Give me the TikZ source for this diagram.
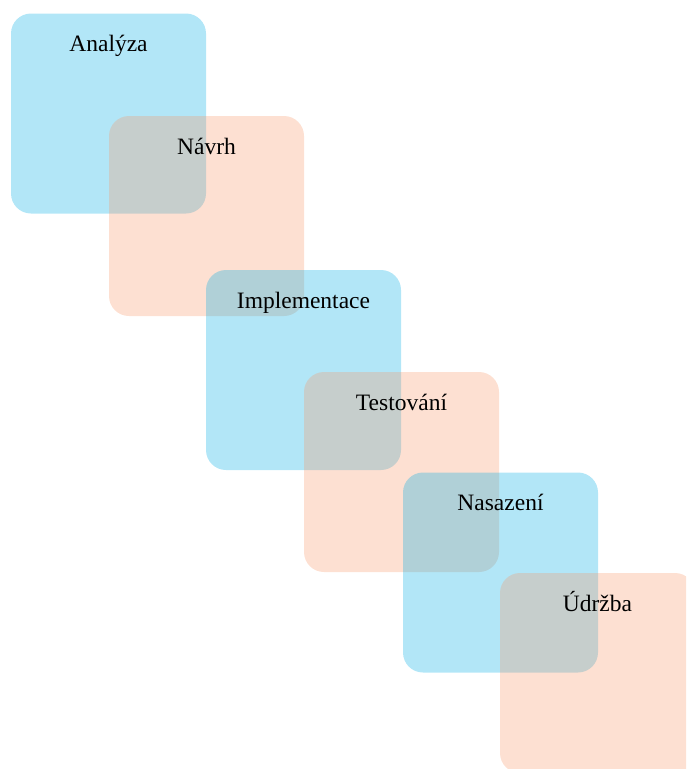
\documentclass[tikz,border=0pt]{standalone}
\usepackage{fontspec}
\setmainfont{Liberation Serif}
\definecolor{phaseblue}{RGB}{0,172,228}
\definecolor{phasepeach}{RGB}{248,152,105}
\begin{document}
\begin{tikzpicture}[x=1pt,y=-1pt,
  phase/.style={rectangle, rounded corners=20pt, minimum width=195pt,
    minimum height=200pt, inner sep=0pt, draw=none, fill opacity=0.3},
  bluephase/.style={phase, fill=phaseblue},
  peachphase/.style={phase, fill=phasepeach},
  lbl/.style={anchor=base, inner sep=0pt, font=\fontsize{23.5}{28}\selectfont}]
\useasboundingbox (0,0) rectangle (686,769);
\clip (0,0) rectangle (686,769);
% overlapping phase panels, each drawn over the previous one
\node[bluephase]  (analyza) at (108.5,113.5) {};
\node[lbl] at ([yshift=-38.5pt]analyza.north) {Analýza};
\node[peachphase] (navrh)   at (206.5,216) {};
\node[lbl] at ([yshift=-38.5pt]navrh.north) {Návrh};
\node[bluephase]  (impl)    at (303.5,370) {};
\node[lbl] at ([yshift=-38.5pt]impl.north) {Implementace};
\node[peachphase] (test)    at (401.5,472) {};
\node[lbl] at ([yshift=-38.5pt]test.north) {Testování};
\node[bluephase]  (nasaz)   at (500.5,572.5) {};
\node[lbl] at ([yshift=-38.5pt]nasaz.north) {Nasazení};
\node[peachphase] (udrzba)  at (597.5,673) {};
\node[lbl] at ([yshift=-38.5pt]udrzba.north) {Údržba};
\end{tikzpicture}
\end{document}
